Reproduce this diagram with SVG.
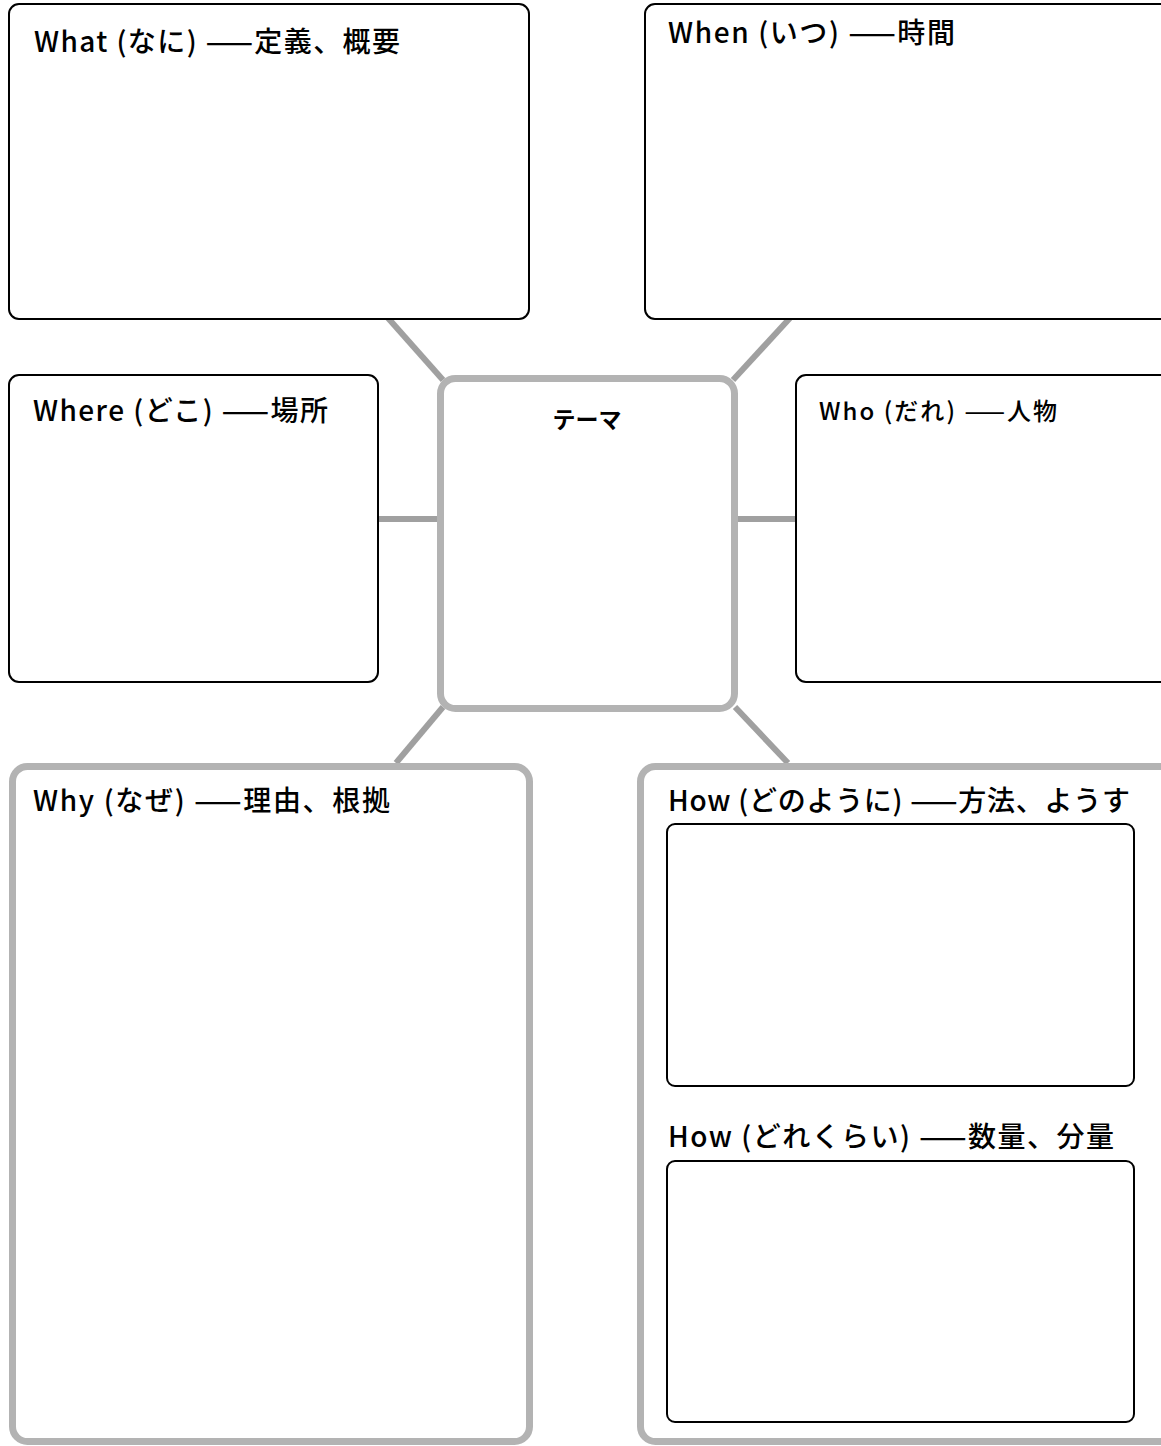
<svg xmlns="http://www.w3.org/2000/svg" width="1161" height="1446" viewBox="0 0 1161 1446">
<style>
.box{fill:#fff;stroke:#000;stroke-width:2}
.gbox{fill:#fff;stroke:#b3b3b3;stroke-width:7}
.conn{stroke:#a0a0a0;stroke-width:6;fill:none}
text{font-family:"Noto Sans CJK JP","Noto Sans",sans-serif;fill:#000}
.t{font-size:28px;font-weight:500}
.s{font-size:24px;font-weight:500}
.c{font-size:23px;font-weight:700}
</style>
<rect width="1161" height="1446" fill="#fff"/>
<g id="connectors">
<line class="conn" x1="388" y1="318" x2="443" y2="380"/>
<line class="conn" x1="790" y1="318" x2="733" y2="380"/>
<line class="conn" x1="378" y1="519" x2="439" y2="519"/>
<line class="conn" x1="735" y1="519" x2="796" y2="519"/>
<line class="conn" x1="443" y1="707" x2="396" y2="763"/>
<line class="conn" x1="735" y1="707" x2="788" y2="763"/>
</g>
<g id="what"><rect class="box" x="9" y="4" width="520" height="315" rx="10"/><text class="t" x="34" y="52" textLength="366" lengthAdjust="spacing">What (なに) ——定義、概要</text></g>
<g id="when"><rect class="box" x="645" y="4" width="530" height="315" rx="10"/><text class="t" x="668" y="43" textLength="287" lengthAdjust="spacing">When (いつ) ——時間</text></g>
<g id="where"><rect class="box" x="9" y="375" width="369" height="307" rx="10"/><text class="t" x="33" y="421" textLength="295" lengthAdjust="spacing">Where (どこ) ——場所</text></g>
<g id="who"><rect class="box" x="796" y="375" width="380" height="307" rx="10"/><text class="s" x="819" y="420" textLength="238" lengthAdjust="spacing">Who (だれ) ——人物</text></g>
<g id="theme"><rect class="gbox" x="440.5" y="378.5" width="294" height="330" rx="15"/><text class="c" x="587" y="428" text-anchor="middle">テーマ</text></g>
<g id="why"><rect class="gbox" x="12.5" y="766.5" width="517" height="675" rx="15"/><text class="t" x="33" y="811" textLength="357" lengthAdjust="spacing">Why (なぜ) ——理由、根拠</text></g>
<g id="how"><rect class="gbox" x="640.5" y="766.5" width="540" height="675" rx="15"/>
<text class="t" x="668" y="811" textLength="462" lengthAdjust="spacing">How (どのように) ——方法、ようす</text>
<rect class="box" x="667" y="824" width="467" height="262" rx="8"/>
<text class="t" x="668" y="1147" textLength="446" lengthAdjust="spacing">How (どれくらい) ——数量、分量</text>
<rect class="box" x="667" y="1161" width="467" height="261" rx="8"/>
</g>
</svg>
